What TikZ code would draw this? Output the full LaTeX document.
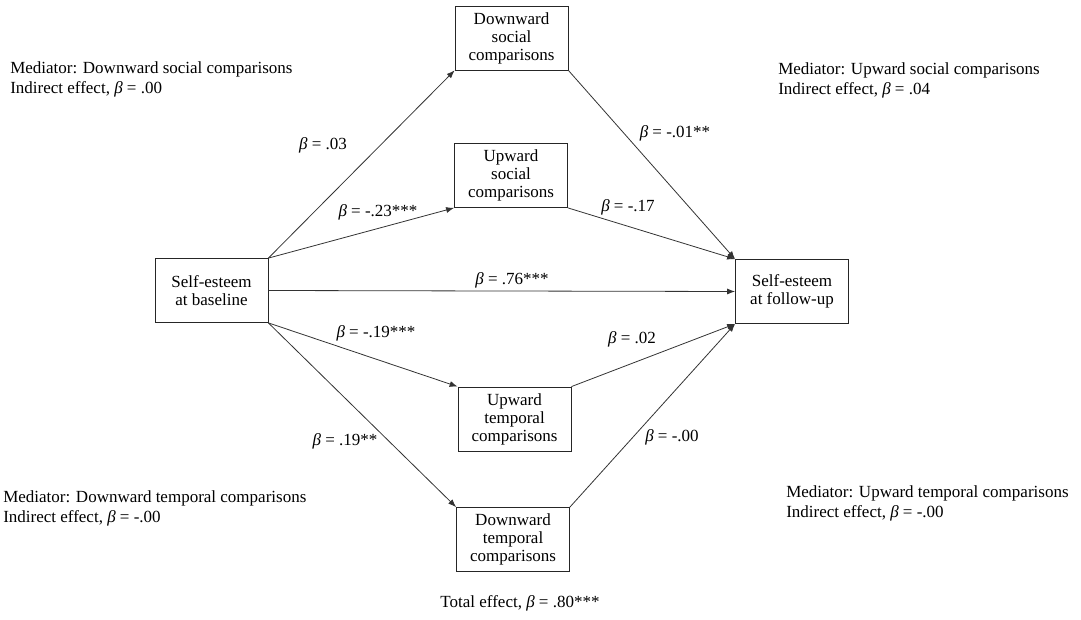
\documentclass[tikz,border=0pt]{standalone}
\usepackage{fontspec}
\setmainfont{Liberation Serif}
\usepackage{tikz}
\usetikzlibrary{arrows.meta,positioning}
\newcommand{\bt}{\textit{β}}

\begin{document}
\begin{tikzpicture}[x=0.75pt, y=-0.75pt,
    varbox/.style={draw=black!85, line width=0.6pt, minimum width=84.75pt, minimum height=48pt,
        align=center, inner sep=2pt, font=\fontsize{12.75}{13.5}\selectfont},
    path/.style={draw=black!80, line width=0.6pt, -{Latex[length=6pt,width=4.5pt]}},
    coef/.style={inner sep=0pt, font=\fontsize{12.75}{15}\selectfont},
    note/.style={inner sep=0pt, anchor=west, align=left, font=\fontsize{12.75}{15}\selectfont}]
    \useasboundingbox (0,0) rectangle (1081,620);

    % Variables
    \node[varbox] (base) at (211.5,290.5) {Self-esteem\\at baseline};
    \node[varbox] (follow) at (792,291.5) {Self-esteem\\at follow-up};
    \node[varbox] (downsoc) at (511.5,38) {Downward\\social\\comparisons};
    \node[varbox] (upsoc) at (511,175.5) {Upward\\social\\comparisons};
    \node[varbox] (uptemp) at (514.5,419) {Upward\\temporal\\comparisons};
    \node[varbox] (downtemp) at (513,539.5) {Downward\\temporal\\comparisons};

    % Paths from baseline to mediators
    \draw[path] (base.north east) -- (downsoc.south west);
    \draw[path] (base.north east) -- (upsoc.south west);
    \draw[path] (base.east) -- (follow.west);
    \draw[path] (base.south east) -- (uptemp.north west);
    \draw[path] (base.south east) -- (downtemp.north west);

    % Paths from mediators to follow-up
    \draw[path] (downsoc.south east) -- (follow.north west);
    \draw[path] (upsoc.south east) -- (follow.north west);
    \draw[path] (uptemp.north east) -- (follow.south west);
    \draw[path] (downtemp.north east) -- (follow.south west);

    % Coefficients
    \node[coef] (c-ds1) at (323,145) {\bt{} = .03};
    \node[coef] (c-us1) at (378,212) {\bt{} = -.23***};
    \node[coef] (c-dir) at (512,280) {\bt{} = .76***};
    \node[coef] (c-ut1) at (376,333) {\bt{} = -.19***};
    \node[coef] (c-dt1) at (345,441) {\bt{} = .19**};
    \node[coef] (c-ds2) at (675,133) {\bt{} = -.01**};
    \node[coef] (c-us2) at (628,207) {\bt{} = -.17};
    \node[coef] (c-ut2) at (632,339) {\bt{} = .02};
    \node[coef] (c-dt2) at (672,437) {\bt{} = -.00};

    % Indirect effects
    \node[note] (n-ds) at (10,79) {Mediator: Downward social comparisons\\Indirect effect, \bt{} = .00};
    \node[note] (n-us) at (778,80) {Mediator: Upward social comparisons\\Indirect effect, \bt{} = .04};
    \node[note] (n-dt) at (3,508) {Mediator: Downward temporal comparisons\\Indirect effect, \bt{} = -.00};
    \node[note] (n-ut) at (786,503) {Mediator: Upward temporal comparisons\\Indirect effect, \bt{} = -.00};
    \node[coef] (total) at (520,603) {Total effect, \bt{} = .80***};
\end{tikzpicture}
\end{document}
